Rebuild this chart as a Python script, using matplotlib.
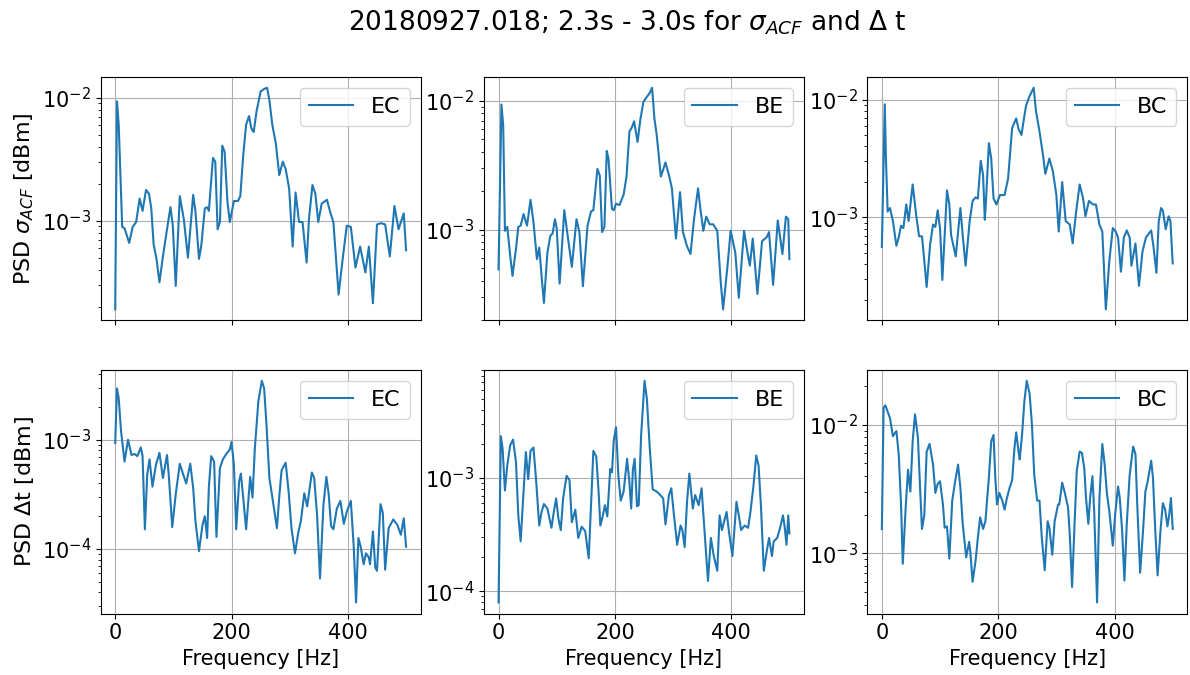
import numpy as np
import matplotlib
matplotlib.use('Agg')
import matplotlib.pyplot as plt

# values; PSD values are kept as log10(PSD)
channels = ['EC', 'BE', 'BC']

ec_acf_f = [0, 3, 6, 12, 16, 24, 30, 36, 42, 47, 53, 58, 62, 66, 71, 76, 82, 89, 95, 99, 104, 111, 118, 125,
            134, 138, 144, 148, 154, 158, 161, 168, 172, 176, 180, 184, 188, 193, 197, 204, 211, 215, 220, 225,
            230, 234, 238, 243, 250, 256, 261, 265, 270, 276, 282, 288, 293, 299, 305, 310, 316, 322, 329, 333,
            339, 344, 349, 355, 364, 369, 375, 384, 390, 398, 405, 413, 421, 430, 436, 443, 450, 457, 464, 472,
            480, 487, 496, 500]
ec_acf_log = [-3.72, -2.03, -2.22, -3.05, -3.06, -3.18, -3.05, -3.01, -2.82, -2.92, -2.75, -2.78, -2.90, -3.19,
              -3.31, -3.50, -3.29, -3.07, -2.89, -3.04, -3.53, -2.80, -2.99, -3.30, -2.79, -2.93, -3.31, -3.20,
              -2.90, -2.89, -2.92, -2.49, -2.52, -3.07, -3.01, -2.39, -2.44, -2.85, -3.01, -2.84, -2.84, -2.80,
              -2.47, -2.22, -2.15, -2.25, -2.28, -2.11, -1.95, -1.93, -1.92, -2.02, -2.22, -2.37, -2.63, -2.52,
              -2.58, -2.74, -3.21, -2.77, -3.01, -3.01, -3.34, -2.99, -2.71, -2.78, -3.01, -2.86, -2.83, -2.92,
              -3.01, -3.60, -3.35, -3.04, -3.05, -3.38, -3.21, -3.42, -3.21, -3.67, -3.03, -3.02, -3.03, -3.29,
              -2.88, -3.07, -2.94, -3.24]

be_acf_f = [0, 5, 8, 11, 15, 20, 24, 30, 34, 38, 43, 49, 55, 60, 66, 70, 74, 78, 84, 89, 93, 97, 100, 105, 113,
            118, 126, 134, 139, 145, 153, 159, 163, 170, 174, 178, 182, 186, 189, 195, 198, 202, 208, 215, 220,
            225, 229, 233, 239, 244, 249, 255, 260, 264, 268, 272, 279, 287, 293, 298, 305, 312, 317, 324, 330,
            336, 343, 347, 352, 357, 363, 369, 376, 382, 386, 393, 399, 407, 413, 422, 428, 432, 437, 445, 453,
            461, 465, 472, 480, 488, 494, 498, 500]
be_acf_log = [-3.31, -2.03, -2.19, -3.01, -2.98, -3.20, -3.36, -3.15, -2.98, -2.97, -2.88, -2.97, -2.77, -2.94,
              -3.23, -3.14, -3.36, -3.57, -3.18, -3.05, -3.03, -2.92, -2.99, -3.42, -2.85, -3.02, -3.29, -2.92,
              -3.02, -3.44, -2.97, -2.86, -2.85, -2.53, -2.58, -3.02, -2.98, -2.39, -2.45, -2.84, -2.85, -2.80,
              -2.81, -2.73, -2.59, -2.24, -2.21, -2.16, -2.32, -2.14, -2.01, -1.97, -1.94, -1.90, -2.14, -2.27,
              -2.59, -2.48, -2.58, -2.68, -3.07, -2.71, -3.02, -3.13, -3.19, -2.92, -2.68, -2.84, -3.01, -2.90,
              -2.96, -2.96, -3.01, -3.41, -3.62, -3.31, -3.01, -3.18, -3.53, -3.01, -3.18, -3.28, -3.07, -3.50,
              -3.09, -3.06, -3.02, -3.43, -2.93, -3.19, -2.90, -2.92, -3.23]

bc_acf_f = [0, 5, 7, 10, 14, 19, 25, 29, 33, 37, 42, 46, 53, 59, 64, 69, 73, 77, 83, 88, 92, 96, 100, 104, 112,
            116, 119, 127, 135, 139, 144, 151, 156, 161, 165, 170, 174, 177, 179, 184, 188, 192, 197, 203, 211,
            217, 224, 231, 235, 240, 244, 248, 254, 261, 265, 271, 277, 281, 288, 294, 300, 304, 310, 316, 323,
            328, 334, 340, 346, 350, 356, 363, 368, 374, 379, 385, 391, 397, 402, 406, 411, 416, 421, 426, 429,
            436, 442, 448, 454, 463, 467, 472, 476, 480, 483, 488, 493, 496, 500]
bc_acf_log = [-3.25, -2.04, -2.50, -2.95, -2.92, -3.03, -3.24, -3.17, -3.07, -3.09, -2.89, -3.03, -2.72, -2.98,
              -3.16, -3.16, -3.37, -3.59, -3.23, -3.06, -3.08, -2.94, -3.09, -3.53, -2.77, -2.89, -3.15, -3.33,
              -2.92, -3.15, -3.41, -3.03, -2.86, -2.83, -2.84, -2.52, -2.64, -3.02, -2.86, -2.37, -2.50, -2.84,
              -2.89, -2.81, -2.81, -2.67, -2.24, -2.16, -2.25, -2.30, -2.17, -2.05, -1.97, -1.90, -2.10, -2.27,
              -2.47, -2.63, -2.50, -2.61, -2.81, -3.12, -2.70, -3.03, -3.06, -3.22, -2.95, -2.72, -2.84, -2.99,
              -2.86, -2.89, -2.89, -3.06, -3.12, -3.78, -3.37, -3.09, -3.12, -3.17, -3.46, -3.17, -3.11, -3.17,
              -3.41, -3.22, -3.58, -3.29, -3.17, -3.11, -3.25, -3.47, -3.03, -2.92, -2.94, -3.10, -2.99, -3.03,
              -3.39]

ec_dt_f = [0, 3, 6, 10, 16, 22, 28, 33, 38, 44, 47, 51, 55, 59, 64, 70, 76, 82, 89, 92, 98, 104, 111, 117, 122,
           129, 134, 138, 144, 150, 154, 158, 161, 165, 170, 174, 180, 185, 191, 197, 200, 204, 208, 213, 216,
           220, 225, 232, 236, 240, 246, 252, 256, 260, 265, 271, 278, 282, 286, 293, 298, 303, 309, 315, 319,
           325, 330, 338, 342, 347, 352, 358, 363, 367, 371, 375, 381, 387, 393, 398, 405, 410, 414, 418, 422,
           427, 431, 436, 438, 443, 447, 450, 456, 460, 464, 470, 478, 485, 491, 496, 500]
ec_dt_log = [-3.03, -2.53, -2.62, -2.92, -3.20, -3.00, -3.14, -3.13, -3.15, -3.07, -3.15, -3.82, -3.32, -3.18,
             -3.43, -3.23, -3.12, -3.35, -3.14, -3.32, -3.80, -3.50, -3.22, -3.32, -3.40, -3.22, -3.44, -3.75,
             -4.02, -3.78, -3.70, -3.90, -3.43, -3.15, -3.20, -3.89, -3.26, -3.18, -3.13, -3.09, -3.02, -3.23,
             -3.82, -3.38, -3.31, -3.53, -3.82, -3.34, -3.53, -3.08, -2.65, -2.46, -2.53, -2.86, -3.35, -3.56,
             -3.81, -3.52, -3.28, -3.21, -3.47, -3.81, -4.04, -3.84, -3.75, -3.49, -3.61, -3.30, -3.35, -3.69,
             -4.27, -3.59, -3.34, -3.50, -3.79, -3.82, -3.63, -3.56, -3.77, -3.66, -3.56, -3.98, -4.49, -3.90,
             -3.98, -4.14, -4.04, -4.08, -4.14, -3.84, -4.17, -4.20, -3.59, -3.67, -4.19, -3.81, -3.73, -3.78,
             -3.87, -3.72, -3.98]

be_dt_f = [0, 4, 7, 11, 15, 20, 25, 30, 34, 38, 43, 47, 51, 55, 60, 64, 70, 74, 78, 84, 91, 95, 99, 103, 107,
           111, 117, 122, 126, 132, 137, 143, 149, 155, 159, 163, 168, 172, 175, 179, 183, 187, 192, 195, 198,
           202, 206, 210, 215, 221, 225, 228, 231, 234, 238, 241, 245, 251, 255, 260, 265, 272, 278, 283, 287,
           293, 297, 301, 307, 313, 316, 320, 324, 328, 334, 338, 344, 349, 354, 360, 365, 370, 376, 380, 384,
           392, 396, 402, 409, 413, 417, 423, 429, 433, 438, 443, 447, 451, 456, 461, 465, 470, 473, 479, 484,
           489, 492, 495, 498, 500]
be_dt_log = [-4.10, -2.63, -2.74, -3.11, -2.89, -2.71, -2.66, -2.86, -3.33, -3.56, -3.12, -2.77, -3.01, -2.76,
             -2.73, -2.98, -3.42, -3.30, -3.23, -3.27, -3.44, -3.30, -3.18, -3.36, -3.46, -3.18, -2.98, -3.02,
             -3.39, -3.28, -3.53, -3.43, -3.47, -3.71, -3.24, -2.76, -2.81, -3.12, -3.42, -3.34, -3.24, -3.34,
             -2.92, -2.95, -2.67, -2.55, -2.98, -3.20, -3.12, -2.83, -3.04, -3.27, -2.92, -2.83, -3.25, -3.24,
             -2.63, -2.14, -2.30, -2.74, -3.10, -3.12, -3.15, -3.18, -3.41, -3.15, -3.09, -3.30, -3.59, -3.42,
             -3.46, -3.61, -3.21, -2.96, -3.27, -3.15, -3.24, -3.09, -3.46, -3.91, -3.53, -3.69, -3.82, -3.33,
             -3.46, -3.30, -3.47, -3.69, -3.21, -3.33, -3.46, -3.42, -3.44, -3.30, -3.08, -2.80, -2.89, -3.24,
             -3.82, -3.65, -3.53, -3.69, -3.56, -3.53, -3.44, -3.33, -3.44, -3.59, -3.33, -3.49]

bc_dt_f = [0, 3, 6, 10, 14, 19, 25, 29, 33, 36, 41, 45, 49, 53, 57, 62, 66, 69, 73, 77, 82, 88, 92, 96, 100,
           105, 108, 112, 116, 121, 126, 131, 135, 139, 145, 150, 152, 156, 161, 165, 169, 174, 178, 184, 188,
           192, 195, 198, 202, 207, 211, 215, 219, 224, 228, 231, 235, 237, 241, 245, 249, 254, 258, 262, 267,
           271, 275, 280, 285, 288, 293, 297, 303, 305, 310, 314, 320, 323, 327, 331, 335, 340, 344, 348, 351,
           355, 358, 362, 365, 370, 374, 379, 383, 387, 391, 397, 401, 406, 409, 413, 417, 421, 426, 432, 436,
           439, 444, 449, 453, 457, 463, 466, 470, 474, 479, 483, 487, 491, 494, 497, 500]
bc_dt_log = [-2.81, -1.87, -1.85, -1.90, -1.95, -2.09, -2.05, -2.23, -2.62, -3.08, -2.64, -2.35, -2.52, -2.13,
             -1.92, -2.10, -2.52, -2.81, -2.70, -2.21, -2.15, -2.31, -2.53, -2.46, -2.44, -2.62, -2.80, -2.79,
             -3.04, -2.59, -2.44, -2.31, -2.49, -2.77, -3.03, -2.91, -2.98, -3.22, -3.06, -2.88, -2.72, -2.81,
             -2.75, -2.41, -2.13, -2.08, -2.41, -2.62, -2.53, -2.59, -2.66, -2.57, -2.50, -2.43, -2.18, -2.06,
             -2.21, -2.27, -2.08, -1.82, -1.66, -1.76, -2.00, -2.39, -2.59, -2.59, -2.88, -3.13, -2.75, -2.80,
             -3.01, -2.75, -2.62, -2.62, -2.45, -2.52, -2.64, -2.85, -3.26, -2.80, -2.36, -2.21, -2.22, -2.34,
             -2.57, -2.77, -2.57, -2.40, -2.67, -3.38, -2.57, -2.15, -2.31, -2.54, -2.67, -2.94, -2.70, -2.48,
             -2.57, -2.82, -3.21, -2.77, -2.39, -2.17, -2.23, -2.62, -3.15, -2.82, -2.52, -2.44, -2.28, -2.41,
             -2.82, -3.17, -2.82, -2.61, -2.66, -2.79, -2.70, -2.57, -2.81]

acf_rows = [(ec_acf_f, ec_acf_log), (be_acf_f, be_acf_log), (bc_acf_f, bc_acf_log)]
dt_rows = [(ec_dt_f, ec_dt_log), (be_dt_f, be_dt_log), (bc_dt_f, bc_dt_log)]

plt.rcParams['font.size'] = 15

fig, axs = plt.subplots(2, 3, figsize=(11.9, 6.75), dpi=100, sharex='col')
fig.subplots_adjust(left=0.0846, right=0.9977, top=0.8864, bottom=0.0911,
                    wspace=0.198, hspace=0.202)

for row, data in enumerate([acf_rows, dt_rows]):
    for col, (f, logp) in enumerate(data):
        ax = axs[row, col]
        ax.plot(f, 10 ** np.array(logp), color='C0', lw=1.5, label=channels[col])
        ax.set_yscale('log')
        ax.grid(True)
        ax.legend(loc='upper right', fontsize=16)
        if row == 1:
            ax.set_xlabel('Frequency [Hz]')

axs[0, 0].set_ylabel(r'PSD $\sigma_{ACF}$ [dBm]', fontsize=16)
axs[1, 0].set_ylabel(r'PSD $\Delta$t [dBm]', fontsize=16)
fig.suptitle(r'20180927.018; 2.3s - 3.0s for $\sigma_{ACF}$ and $\Delta$ t',
             fontsize=19, x=0.527, y=0.988)

fig.savefig('out.png', dpi=100)
